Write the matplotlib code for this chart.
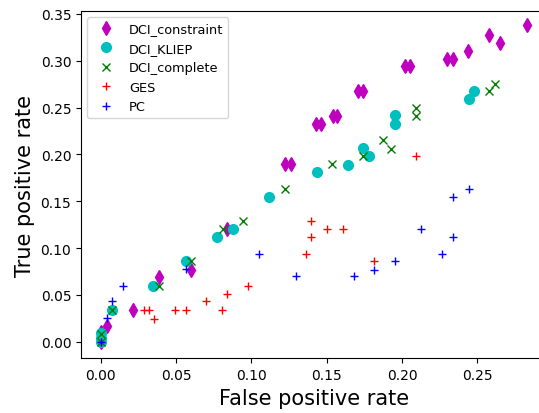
import matplotlib
matplotlib.use('Agg')
import matplotlib.pyplot as plt

# (false positive rate, true positive rate)
cons_fpr = [0.0, 0.0, 0.0, 0.0038, 0.0215, 0.0388, 0.0596, 0.0836, 0.122, 0.126,
            0.143, 0.146, 0.154, 0.157, 0.171, 0.174, 0.202, 0.205, 0.230, 0.234,
            0.244, 0.258, 0.265, 0.283]
cons_tpr = [0.0, 0.004, 0.010, 0.0167, 0.0334, 0.069, 0.077, 0.120, 0.190, 0.190,
            0.232, 0.232, 0.241, 0.241, 0.268, 0.268, 0.294, 0.294, 0.302, 0.302,
            0.311, 0.328, 0.319, 0.338]

kliep_fpr = [0.0, 0.0, 0.0, 0.0075, 0.0348, 0.0563, 0.0769, 0.088, 0.112, 0.1434,
             0.164, 0.1744, 0.178, 0.1955, 0.1955, 0.2442, 0.2476]
kliep_tpr = [0.0, 0.004, 0.009, 0.0334, 0.060, 0.086, 0.1123, 0.120, 0.155, 0.1816,
             0.189, 0.2065, 0.1986, 0.2327, 0.242, 0.259, 0.268]

comp_fpr = [0.0, 0.0, 0.0075, 0.0388, 0.0596, 0.0809, 0.0946, 0.1223, 0.1534, 0.1744,
            0.1877, 0.1926, 0.2094, 0.2094, 0.258, 0.2615]
comp_tpr = [0.0, 0.008, 0.0334, 0.060, 0.086, 0.1205, 0.1293, 0.163, 0.190, 0.1986,
            0.2157, 0.2058, 0.2413, 0.250, 0.268, 0.2757]

ges_fpr = [0.0, 0.0286, 0.0321, 0.0352, 0.0492, 0.0565, 0.0698, 0.0807, 0.084, 0.098,
           0.1363, 0.1396, 0.1396, 0.1505, 0.1607, 0.1815, 0.2094]
ges_tpr = [0.0, 0.0334, 0.0334, 0.0245, 0.0334, 0.0334, 0.043, 0.0334, 0.0512, 0.060,
           0.0938, 0.1123, 0.129, 0.1205, 0.1205, 0.0864, 0.1986]

pc_fpr = [0.0, 0.0038, 0.0075, 0.0144, 0.0563, 0.1053, 0.1297, 0.1678, 0.1815, 0.1955,
          0.2128, 0.2265, 0.2338, 0.2338, 0.2442]
pc_tpr = [0.0, 0.0252, 0.043, 0.060, 0.0778, 0.0938, 0.070, 0.070, 0.077, 0.086,
          0.1205, 0.0938, 0.1123, 0.155, 0.163]

fig = plt.figure(figsize=(5.39, 4.14), dpi=100)
# the original picture is cropped at the right edge, so the axes run past it
ax = fig.add_axes([0.1503, 0.1321, 0.8638, 0.8396])
ax.plot(cons_fpr, cons_tpr, 'md', markersize=7, linestyle='none', label='DCI_constraint')
ax.plot(kliep_fpr, kliep_tpr, 'co', markersize=7, linestyle='none', label='DCI_KLIEP')
ax.plot(comp_fpr, comp_tpr, 'gx', markersize=6, linestyle='none', label='DCI_complete')
ax.plot(ges_fpr, ges_tpr, 'r+', markersize=6, linestyle='none', label='GES')
ax.plot(pc_fpr, pc_tpr, 'b+', markersize=6, linestyle='none', label='PC')
ax.set_xlim(-0.01315, 0.296)
ax.set_ylim(-0.0177, 0.3535)
ax.set_xlabel('False positive rate', fontsize=15)
ax.set_ylabel('True positive rate', fontsize=15)
ax.legend(loc='upper left', fontsize=9.3)
fig.savefig('out.png', dpi=100)
